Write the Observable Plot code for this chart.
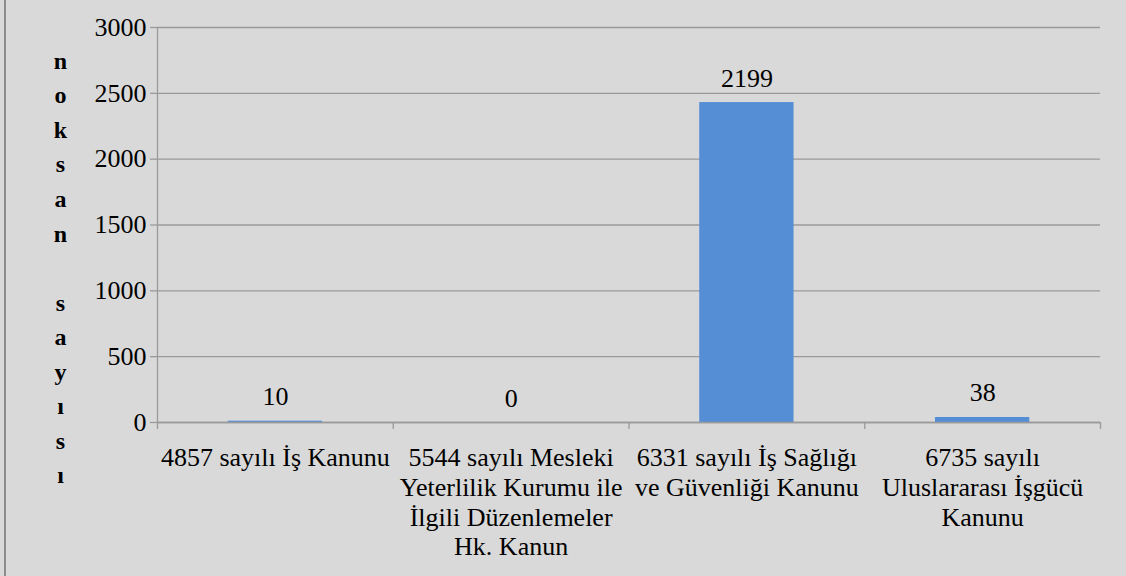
<!DOCTYPE html>
<html><head><meta charset="utf-8">
<script src="https://cdn.jsdelivr.net/npm/d3@7"></script>
<script src="https://cdn.jsdelivr.net/npm/@observablehq/plot@0.6"></script>
<style>
html,body{margin:0;padding:0;background:#d9d9d9;}
#wrap{position:relative;width:1126px;height:576px;background:#d9d9d9;overflow:hidden;}
#wrap::before{content:"";position:absolute;left:4px;top:0;bottom:0;width:2px;background:#8c8c8c;}
#wrap svg{display:block;}
</style></head><body><div id="wrap"></div>
<script>
const categories = [
  "4857 sayılı İş Kanunu",
  "5544 sayılı Mesleki\nYeterlilik Kurumu ile\nİlgili Düzenlemeler\nHk. Kanun",
  "6331 sayılı İş Sağlığı\nve Güvenliği Kanunu",
  "6735 sayılı\nUluslararası İşgücü\nKanunu"
];
const barValues = [10, 0, 2430, 38];
const valueLabels = ["10", "0", "2199", "38"];
const yTicks = [0, 500, 1000, 1500, 2000, 2500, 3000];
const axisTitle = "noksan sayısı";

const rows = categories.map((c, i) => ({i, cat: c, value: barValues[i], label: valueLabels[i]}));
const boundaries = d3.range(categories.length + 1);
const gap = 0.3; // Excel gap width 150%
const font = "Liberation Serif";
const gridColor = "#9a9a9a";

const chart = Plot.plot({
  width: 1126,
  height: 576,
  marginLeft: 157,
  marginRight: 26,
  marginTop: 27,
  marginBottom: 154,
  style: {background: "transparent", fontFamily: font, color: "#000", overflow: "visible"},
  x: {domain: [0, categories.length], axis: null},
  y: {domain: [0, 3000], axis: null},
  marks: [
    Plot.gridY(yTicks, {stroke: gridColor, strokeOpacity: 1, strokeWidth: 1.3}),
    Plot.axisY(yTicks, {tickSize: 7, tickPadding: 4, stroke: gridColor, strokeWidth: 1.3, fontSize: 26, fontFamily: font, fill: "#000", label: null, tickFormat: d => String(d)}),
    Plot.rectY(rows, {x1: d => d.i + gap, x2: d => d.i + 1 - gap, y1: 0, y2: "value", fill: "#558ed5"}),
    Plot.ruleX([0], {stroke: gridColor, strokeWidth: 1.3}),
    Plot.ruleY([0], {stroke: gridColor, strokeWidth: 1.3}),
    Plot.ruleX(boundaries, {x: d => d, y1: 0, y2: 0, insetBottom: -7, stroke: gridColor, strokeWidth: 1.3}),
    Plot.text(rows, {x: d => d.i + 0.5, y: "value", text: "label", lineAnchor: "bottom", dy: -16, fontSize: 26, fontFamily: font, fill: "#000"}),
    Plot.text(rows, {x: d => d.i + 0.5, y: 0, text: "cat", lineAnchor: "top", dy: 22, lineHeight: 1.15, fontSize: 26, fontFamily: font, fill: "#000"}),
    Plot.text([axisTitle.split("").join("\n")], {frameAnchor: "left", dx: -97, dy: 40, lineAnchor: "middle", lineHeight: 1.44, fontSize: 24, fontFamily: font, fontWeight: "bold", fill: "#000", textAnchor: "middle"})
  ]
});
document.getElementById("wrap").appendChild(chart);
</script>
</body></html>
